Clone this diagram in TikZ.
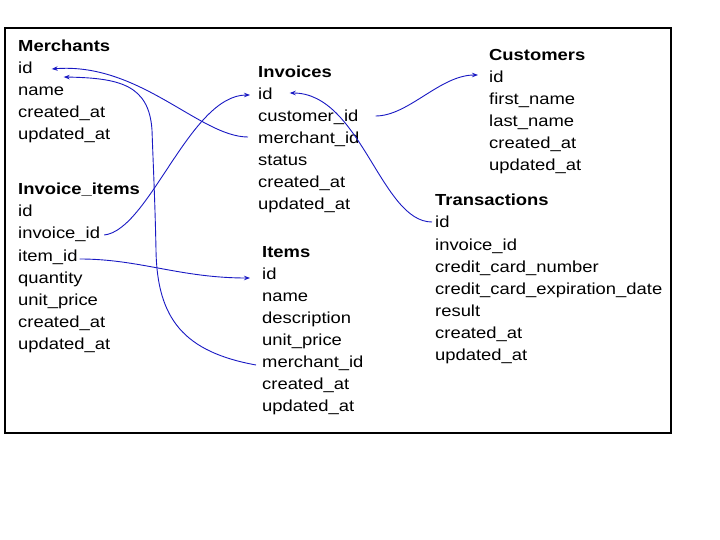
\documentclass[tikz,border=0pt]{standalone}
\usepackage{fontspec}
\setmainfont{Liberation Sans}[FakeStretch=1.15]
\usetikzlibrary{arrows.meta}
\definecolor{linkblue}{RGB}{25,25,195}

\begin{document}
\begin{tikzpicture}[
    x=1pt, y=-1pt,
    font=\fontsize{16}{22}\selectfont,
    field/.style={anchor=base west, inner sep=0pt},
    title/.style={field, font=\fontsize{16}{22}\selectfont\bfseries},
    link/.style={draw=linkblue, line width=0.9pt, -{Stealth[length=6pt,width=4.5pt]}}
]
    \useasboundingbox (0,0) rectangle (720,540);
    \draw[line width=1.2pt] (5,28) rectangle (671,433);

        % Merchants
        \node[title] (M) at (18,52) {Merchants};
        \node[field] (M-id) at (18,74) {id};
        \node[field] (M-name) at (18,96) {name};
        \node[field] (M-cre) at (18,118) {created\_at};
        \node[field] (M-upd) at (18,140) {updated\_at};
        % Invoice_items
        \node[title] (II) at (18,195) {Invoice\_items};
        \node[field] (II-id) at (18,217) {id};
        \node[field] (II-inv) at (18,239) {invoice\_id};
        \node[field] (II-item) at (18,261) {item\_id};
        \node[field] (II-qty) at (18,283) {quantity};
        \node[field] (II-price) at (18,305) {unit\_price};
        \node[field] (II-cre) at (18,327) {created\_at};
        \node[field] (II-upd) at (18,349) {updated\_at};
        % Invoices
        \node[title] (I) at (258,78) {Invoices};
        \node[field] (I-id) at (258,100) {id};
        \node[field] (I-cust) at (258,122) {customer\_id};
        \node[field] (I-merch) at (258,144) {merchant\_id};
        \node[field] (I-status) at (258,166) {status};
        \node[field] (I-cre) at (258,188) {created\_at};
        \node[field] (I-upd) at (258,210) {updated\_at};
        % Items
        \node[title] (It) at (262,257) {Items};
        \node[field] (It-id) at (262,279) {id};
        \node[field] (It-name) at (262,301) {name};
        \node[field] (It-desc) at (262,323) {description};
        \node[field] (It-price) at (262,345) {unit\_price};
        \node[field] (It-merch) at (262,367) {merchant\_id};
        \node[field] (It-cre) at (262,389) {created\_at};
        \node[field] (It-upd) at (262,411) {updated\_at};
        % Customers
        \node[title] (C) at (489,61) {Customers};
        \node[field] (C-id) at (489,83) {id};
        \node[field] (C-first) at (489,105) {first\_name};
        \node[field] (C-last) at (489,127) {last\_name};
        \node[field] (C-cre) at (489,149) {created\_at};
        \node[field] (C-upd) at (489,171) {updated\_at};
        % Transactions
        \node[title] (T) at (435,206) {Transactions};
        \node[field] (T-id) at (435,228) {id};
        \node[field] (T-inv) at (435,250) {invoice\_id};
        \node[field] (T-ccn) at (435,272) {credit\_card\_number};
        \node[field] (T-cce) at (435,294) {credit\_card\_expiration\_date};
        \node[field] (T-res) at (435,316) {result};
        \node[field] (T-cre) at (435,338) {created\_at};
        \node[field] (T-upd) at (435,360) {updated\_at};

    \draw[link] ([xshift=-10pt,yshift=7pt]I-merch.base west) .. controls +(-48,0) and +(88,-7) .. ([xshift=19pt,yshift=5pt]M-id.base east);
    \draw[link] ([xshift=-6pt,yshift=2pt]It-merch.base west) .. controls (185,352) and (157,320) .. (156,250)
        .. controls (155,200) and (153,160) .. (152,130)
        .. controls (149,85) and (120,78) .. ([xshift=31pt,yshift=-3pt]M-id.base east);
    \draw[link] ([xshift=4pt,yshift=4pt]II-inv.base east) .. controls +(45,-5) and +(-60,0) .. ([xshift=-8pt,yshift=5pt]I-id.base west);
    \draw[link] ([xshift=2pt,yshift=2pt]II-item.base east) .. controls +(60,0) and +(-70,0) .. ([xshift=-12pt,yshift=1pt]It-id.base west);
    \draw[link] ([xshift=17pt,yshift=6pt]I-cust.base east) .. controls +(33,0) and +(-38,0) .. ([xshift=-11pt,yshift=8pt]C-id.base west);
    \draw[link] ([xshift=-3pt,yshift=6pt]T-id.base west) .. controls +(-51,0) and +(71,0) .. ([xshift=17pt,yshift=7pt]I-id.base east);

    \end{tikzpicture}
\end{document}
